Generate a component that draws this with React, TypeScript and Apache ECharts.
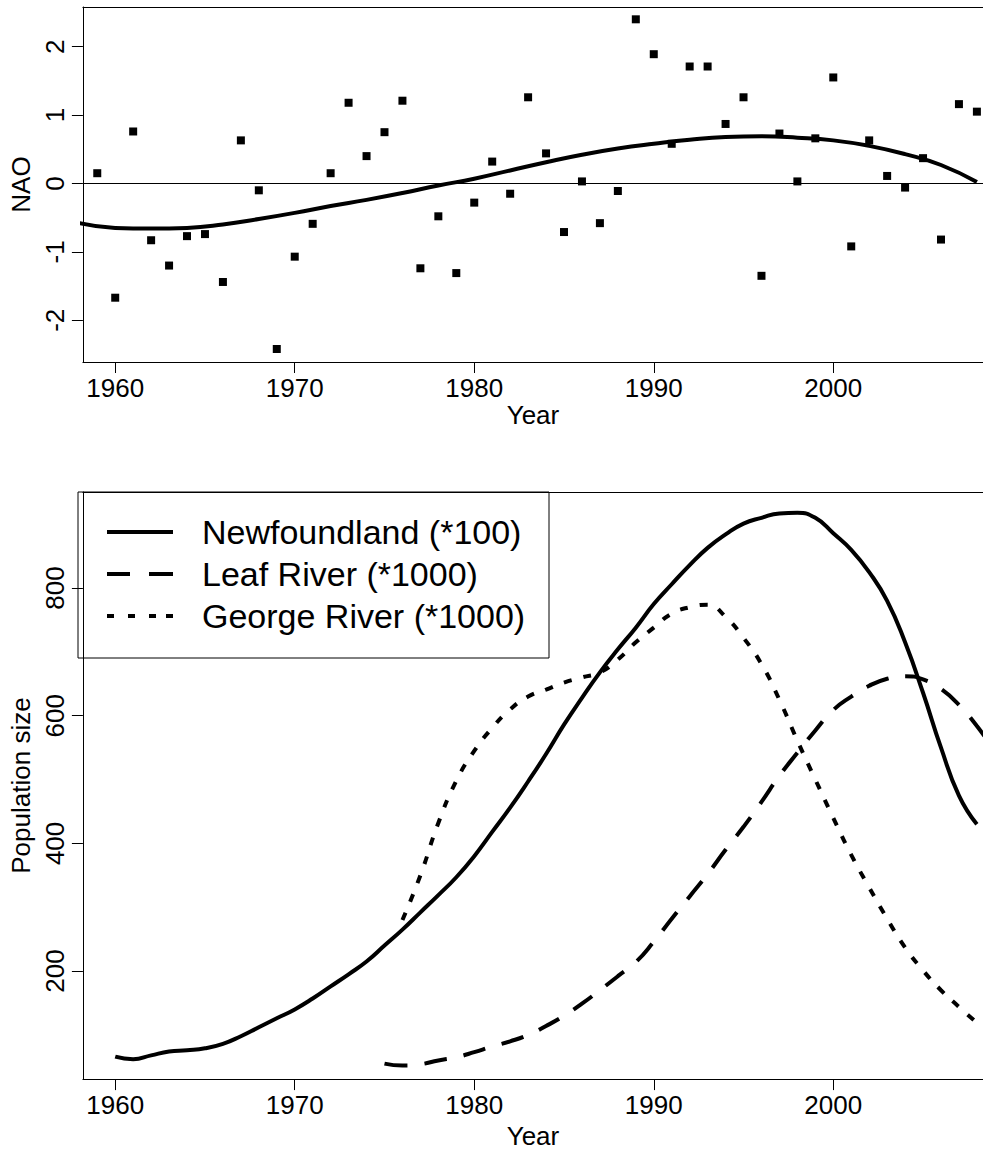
import React, { useEffect, useRef } from 'react';
import * as echarts from 'echarts';

// ---- Top panel: NAO index ----
const naoYears = [1959, 1960, 1961, 1962, 1963, 1964, 1965, 1966, 1967, 1968, 1969, 1970, 1971, 1972, 1973, 1974, 1975, 1976, 1977, 1978, 1979, 1980, 1981, 1982, 1983, 1984, 1985, 1986, 1987, 1988, 1989, 1990, 1991, 1992, 1993, 1994, 1995, 1996, 1997, 1998, 1999, 2000, 2001, 2002, 2003, 2004, 2005, 2006, 2007, 2008];
const naoValues = [0.15, -1.67, 0.76, -0.83, -1.2, -0.77, -0.74, -1.44, 0.63, -0.1, -2.42, -1.07, -0.59, 0.15, 1.18, 0.4, 0.75, 1.21, -1.24, -0.48, -1.31, -0.28, 0.32, -0.15, 1.26, 0.44, -0.71, 0.03, -0.58, -0.11, 2.4, 1.89, 0.58, 1.71, 1.71, 0.87, 1.26, -1.35, 0.73, 0.03, 0.66, 1.55, -0.92, 0.63, 0.11, -0.06, 0.37, -0.82, 1.16, 1.05];

const naoTrendYears = [1958, 1960, 1962, 1964, 1966, 1968, 1970, 1972, 1974, 1976, 1978, 1980, 1982, 1984, 1986, 1988, 1990, 1992, 1994, 1996, 1998, 2000, 2002, 2004, 2006, 2008];
const naoTrendValues = [-0.58, -0.65, -0.66, -0.65, -0.6, -0.52, -0.43, -0.33, -0.24, -0.14, -0.03, 0.07, 0.19, 0.31, 0.42, 0.51, 0.58, 0.64, 0.68, 0.69, 0.67, 0.63, 0.55, 0.43, 0.27, 0.02];

const naoYTicks = [-2, -1, 0, 1, 2];
const yearTicks = [1960, 1970, 1980, 1990, 2000];

// ---- Bottom panel: population sizes ----
const nfYears = [1960, 1961, 1962, 1963, 1964, 1965, 1966, 1967, 1968, 1969, 1970, 1971, 1972, 1973, 1974, 1975, 1976, 1977, 1978, 1979, 1980, 1981, 1982, 1983, 1984, 1985, 1986, 1987, 1988, 1989, 1990, 1991, 1992, 1993, 1994, 1995, 1996, 1997, 1998, 1999, 2000, 2001, 2002, 2003, 2004, 2005, 2006, 2007, 2008];
const nfValues = [66, 62, 68, 74, 76, 79, 86, 98, 112, 126, 140, 157, 176, 195, 215, 240, 265, 292, 319, 347, 380, 418, 456, 497, 540, 586, 628, 668, 704, 738, 775, 806, 836, 863, 884, 901, 910, 917, 918, 910, 886, 860, 825, 780, 715, 636, 550, 475, 430];

const leafYears = [1975, 1976, 1977, 1978, 1979, 1980, 1981, 1982, 1983, 1984, 1985, 1986, 1987, 1988, 1989, 1990, 1991, 1992, 1993, 1994, 1995, 1996, 1997, 1998, 1999, 2000, 2001, 2002, 2003, 2004, 2005, 2006, 2007, 2008, 2009];
const leafValues = [55, 52, 54, 60, 65, 73, 82, 90, 100, 114, 130, 149, 170, 192, 214, 246, 282, 317, 352, 390, 426, 465, 506, 542, 577, 609, 630, 647, 658, 662, 657, 642, 617, 584, 545];

const georgeYears = [1976, 1977, 1978, 1979, 1980, 1981, 1982, 1983, 1984, 1985, 1986, 1987, 1988, 1989, 1990, 1991, 1992, 1993, 1994, 1995, 1996, 1997, 1998, 1999, 2000, 2001, 2002, 2003, 2004, 2005, 2006, 2007, 2008];
const georgeValues = [280, 350, 432, 498, 545, 581, 610, 630, 641, 652, 660, 668, 688, 715, 738, 760, 770, 774, 755, 722, 681, 625, 561, 500, 440, 382, 331, 282, 237, 201, 170, 144, 119];

const popYTicks = [200, 400, 600, 800];

const seriesNames = ['Newfoundland (*100)', 'Leaf River (*1000)', 'George River (*1000)'];

// legend line samples (66 x 4 strips: solid, dashed, dotted)
const legendIcons = [
  'path://M0,0H66V4H0Z',
  'path://M0,0H23V4H0Z M42,0H66V4H42Z',
  'path://M0,0H7V4H0Z M21,0H28V4H21Z M42,0H49V4H42Z M59,0H66V4H59Z',
];

const XMIN = 1958.2;
const XMAX = 2008.34;

const FONT = '"Liberation Sans", Arial, Helvetica, sans-serif';
const BLACK = '#000';

function pairs(xs: number[], ys: number[]) {
  return xs.map((x, i) => [x, ys[i]]);
}

export default function App() {
  const ref = useRef<HTMLDivElement>(null);

  useEffect(() => {
    if (!ref.current) return;
    const chart = echarts.init(ref.current, null, { renderer: 'svg' });

    const axisLine = { show: true, onZero: false, lineStyle: { color: BLACK, width: 1 } };
    const tickStyle = { color: BLACK, width: 1 };
    const labelText = { color: BLACK, fontSize: 26, fontFamily: FONT };

    const bottomXAxis = (gridIndex: number) => ({
      type: 'value',
      gridIndex,
      min: XMIN,
      max: XMAX,
      position: 'bottom',
      name: 'Year',
      nameLocation: 'middle',
      nameGap: 33,
      nameTextStyle: { ...labelText },
      axisLine,
      axisTick: { show: true, length: 11, lineStyle: tickStyle, customValues: yearTicks },
      axisLabel: { ...labelText, margin: 13, customValues: yearTicks, formatter: (v: number) => String(v) },
      splitLine: { show: false },
    });

    const topXAxis = (gridIndex: number) => ({
      type: 'value',
      gridIndex,
      min: XMIN,
      max: XMAX,
      position: 'top',
      axisLine,
      axisTick: { show: false },
      axisLabel: { show: false },
      splitLine: { show: false },
    });

    const option: any = {
      animation: false,
      backgroundColor: '#fff',
      grid: [
        { left: 78, right: 0, top: 7, height: 355 },
        { left: 78, right: 0, top: 492, height: 597 },
      ],
      xAxis: [bottomXAxis(0), topXAxis(0), bottomXAxis(1), topXAxis(1)],
      yAxis: [
        {
          type: 'value',
          gridIndex: 0,
          min: -2.61,
          max: 2.58,
          name: 'NAO',
          nameLocation: 'middle',
          nameRotate: 90,
          nameGap: 41,
          nameTextStyle: { ...labelText },
          axisLine,
          axisTick: { show: true, length: 11, lineStyle: tickStyle, customValues: naoYTicks },
          axisLabel: { ...labelText, rotate: 90, margin: 15, customValues: naoYTicks },
          splitLine: { show: false },
        },
        {
          type: 'value',
          gridIndex: 1,
          min: 30.8,
          max: 950.5,
          name: 'Population size',
          nameLocation: 'middle',
          nameRotate: 90,
          nameGap: 41,
          nameTextStyle: { ...labelText },
          axisLine,
          axisTick: { show: true, length: 11, lineStyle: tickStyle, customValues: popYTicks },
          axisLabel: { ...labelText, rotate: 90, margin: 15, customValues: popYTicks },
          splitLine: { show: false },
        },
      ],
      legend: {
        data: seriesNames.map((name, i) => ({ name, icon: legendIcons[i] })),
        orient: 'vertical',
        left: 107,
        top: 515,
        padding: 0,
        itemWidth: 66,
        itemHeight: 14,
        itemGap: 8,
        symbolKeepAspect: true,
        selectedMode: false,
        itemStyle: { color: BLACK, borderWidth: 0 },
        textStyle: { color: BLACK, fontSize: 34, lineHeight: 34, fontFamily: FONT, padding: [0, 0, 0, 24] },
      },
      graphic: [
        {
          type: 'rect',
          shape: { x: 78, y: 492, width: 471, height: 166 },
          style: { fill: 'none', stroke: BLACK, lineWidth: 1 },
          silent: true,
        },
      ],
      series: [
        {
          name: 'NAO',
          type: 'scatter',
          xAxisIndex: 0,
          yAxisIndex: 0,
          data: pairs(naoYears, naoValues),
          symbol: 'rect',
          symbolSize: 8,
          itemStyle: { color: BLACK, opacity: 1 },
          markLine: {
            silent: true,
            symbol: ['none', 'none'],
            label: { show: false },
            lineStyle: { color: BLACK, width: 1, type: 'solid' },
            data: [{ yAxis: 0 }],
          },
        },
        {
          name: 'NAO trend',
          type: 'line',
          xAxisIndex: 0,
          yAxisIndex: 0,
          data: pairs(naoTrendYears, naoTrendValues),
          smooth: true,
          symbol: 'none',
          lineStyle: { color: BLACK, width: 4 },
        },
        {
          name: seriesNames[0],
          type: 'line',
          xAxisIndex: 2,
          yAxisIndex: 1,
          data: pairs(nfYears, nfValues),
          smooth: true,
          symbol: 'none',
          itemStyle: { color: BLACK },
          lineStyle: { color: BLACK, width: 4, type: 'solid' },
        },
        {
          name: seriesNames[1],
          type: 'line',
          xAxisIndex: 2,
          yAxisIndex: 1,
          data: pairs(leafYears, leafValues),
          smooth: true,
          symbol: 'none',
          itemStyle: { color: BLACK },
          lineStyle: { color: BLACK, width: 4, type: [23, 17] },
        },
        {
          name: seriesNames[2],
          type: 'line',
          xAxisIndex: 2,
          yAxisIndex: 1,
          data: pairs(georgeYears, georgeValues),
          smooth: true,
          symbol: 'none',
          itemStyle: { color: BLACK },
          lineStyle: { color: BLACK, width: 4, type: [8, 12] },
        },
      ],
    };

    chart.setOption(option);
    return () => {
      chart.dispose();
    };
  }, []);

  return (
    <div
      ref={ref}
      style={{ position: 'absolute', left: 0, top: 0, width: 983, height: 1154, background: '#fff' }}
    />
  );
}
